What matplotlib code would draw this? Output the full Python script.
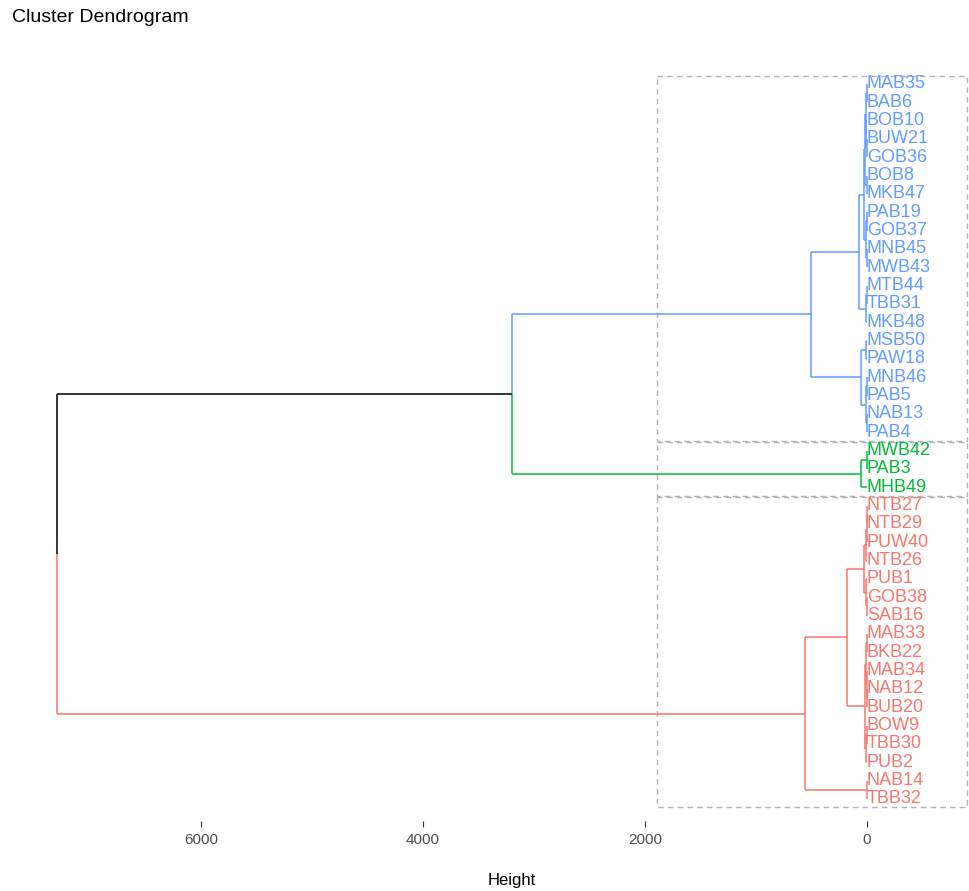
import numpy as np
import matplotlib
matplotlib.use("Agg")
import matplotlib.pyplot as plt
from matplotlib.patches import Rectangle

labels = ['MAB35', 'BAB6', 'BOB10', 'BUW21', 'GOB36', 'BOB8', 'MKB47', 'PAB19', 'GOB37', 'MNB45',
          'MWB43', 'MTB44', 'TBB31', 'MKB48', 'MSB50', 'PAW18', 'MNB46', 'PAB5', 'NAB13', 'PAB4',
          'MWB42', 'PAB3', 'MHB49',
          'NTB27', 'NTB29', 'PUW40', 'NTB26', 'PUB1', 'GOB38', 'SAB16', 'MAB33', 'BKB22', 'MAB34',
          'NAB12', 'BUB20', 'BOW9', 'TBB30', 'PUB2', 'NAB14', 'TBB32']
cluster_sizes = [20, 3, 17]
cluster_colors = ['#619CFF', '#00BA38', '#F8766D']

# merges: new node ids start at len(labels), leaves are 0..39 in display order
merge_left = [0, 3, 2, 40, 5, 43, 7, 9, 46, 45, 11, 50, 49, 14, 16, 18, 54, 53, 52,
              20, 59, 58,
              23, 62, 63, 28, 27, 64, 30, 33, 32, 68, 35, 72, 71, 67, 38, 75, 61]
merge_right = [1, 4, 41, 42, 6, 44, 8, 10, 47, 48, 12, 13, 51, 15, 17, 19, 55, 56, 57,
               21, 22, 60,
               24, 25, 26, 29, 65, 66, 31, 34, 69, 70, 36, 37, 73, 74, 39, 76, 77]
merge_height = [2, 2, 5, 8, 3, 14, 4, 3, 10, 30, 3, 12, 72, 5, 3, 2, 6, 55, 505,
                2, 55, 3200,
                3, 4, 8, 3, 10, 25, 2, 2, 4, 6, 3, 8, 15, 180, 4, 560, 7300]

n = len(labels)
leaf_col = []
for size, col in zip(cluster_sizes, cluster_colors):
    leaf_col += [col] * size

ypos = {i: float(i) for i in range(n)}
hgt = {i: 0.0 for i in range(n)}
col = {i: leaf_col[i] for i in range(n)}
for k, (a, b, h) in enumerate(zip(merge_left, merge_right, merge_height)):
    node = n + k
    ypos[node] = (ypos[a] + ypos[b]) / 2
    hgt[node] = h
    col[node] = col[a] if col[a] == col[b] else 'black'

fig = plt.figure(figsize=(9.69, 8.91), dpi=100)
ax = fig.add_axes([0.0, 0.0786, 1.0, 0.8597])

for k, (a, b, h) in enumerate(zip(merge_left, merge_right, merge_height)):
    node = n + k
    for c in (a, b):
        ax.plot([h, h], [ypos[node], ypos[c]], color=col[c], lw=1.1, solid_capstyle='butt')
        ax.plot([h, hgt[c]], [ypos[c], ypos[c]], color=col[c], lw=1.1, solid_capstyle='butt')

lab_font = ['Liberation Sans Narrow', 'Liberation Sans', 'DejaVu Sans']
for i, lab in enumerate(labels):
    ax.text(0, i, lab, color=leaf_col[i], fontsize=13, va='center', ha='left', family=lab_font)

start = 0
for size in cluster_sizes:
    ax.add_patch(Rectangle((1890, start - 0.45), -2790, size - 0.1, fill=False,
                           edgecolor='#B3B3B3', lw=1.0, linestyle=(0, (4, 3))))
    start += size

ax.set_xlim(7811, -919)
ax.set_ylim(40.2, -1.58)
for s in ax.spines.values():
    s.set_visible(False)
ax.set_yticks([])
ax.set_xticks([0, 2000, 4000, 6000])
ax.set_xticklabels(['0', '2000', '4000', '6000'], family=lab_font, fontsize=11, color='#4D4D4D')
ax.tick_params(axis='x', length=4, width=0.8, color='#333333', pad=5)

fig.text(512 / 969, 1 - 880 / 891, 'Height', ha='center', va='center', fontsize=12, family=lab_font)
fig.text(0.012, 1 - 18 / 891, 'Cluster Dendrogram', ha='left', va='center', fontsize=14,
         family=['Liberation Sans', 'DejaVu Sans'])

fig.savefig('out.png', dpi=100)
